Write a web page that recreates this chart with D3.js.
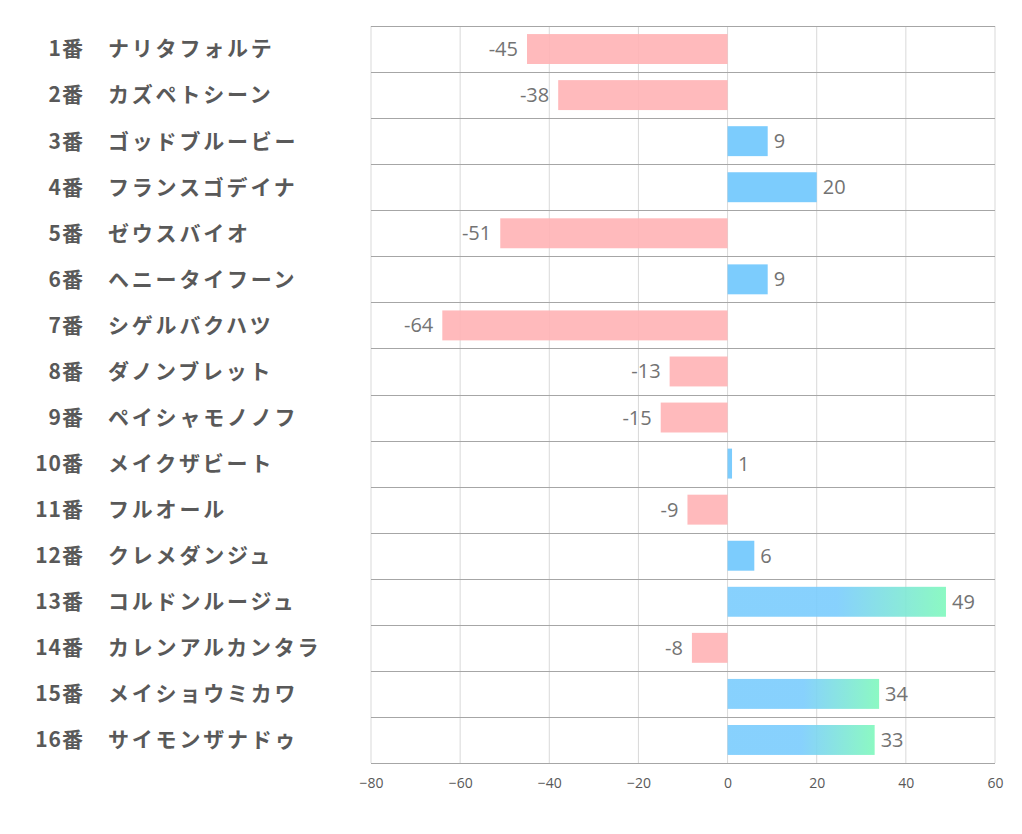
<!DOCTYPE html>
<html><head><meta charset="utf-8">
<script src="https://cdn.jsdelivr.net/npm/d3@7"></script>
<style>body{margin:0;background:#fff;} svg{display:block;}</style>
</head><body>
<svg id="c" width="1022" height="834"></svg>
<script>
const numbers = ["1番","2番","3番","4番","5番","6番","7番","8番","9番","10番","11番","12番","13番","14番","15番","16番"];
const names = ["ナリタフォルテ","カズペトシーン","ゴッドブルービー","フランスゴデイナ","ゼウスバイオ","ヘニータイフーン","シゲルバクハツ","ダノンブレット","ペイシャモノノフ","メイクザビート","フルオール","クレメダンジュ","コルドンルージュ","カレンアルカンタラ","メイショウミカワ","サイモンザナドゥ"];
const values = [-45,-38,9,20,-51,9,-64,-13,-15,1,-9,6,49,-8,34,33];
const ticks = [-80,-60,-40,-20,0,20,40,60];

const svg = d3.select("#c");
const L = 371, R = 995, T = 26, B = 763;
const x = d3.scaleLinear().domain([-80,60]).range([L,R]);
const y = d3.scaleBand().domain(d3.range(values.length)).range([T,B]).paddingInner(0.35).paddingOuter(0.175);
const rowH = (B-T)/values.length;

const defs = svg.append("defs");
const g = defs.append("linearGradient").attr("id","grad").attr("x1","0").attr("x2","1").attr("y1","0").attr("y2","0");
g.append("stop").attr("offset","0.5").attr("stop-color","#7accfd");
g.append("stop").attr("offset","1").attr("stop-color","#7ff8bc");

// vertical grid
svg.append("g").selectAll("line").data(ticks).join("line")
  .attr("x1",d=>x(d)).attr("x2",d=>x(d)).attr("y1",T).attr("y2",B)
  .attr("stroke","#d9d9d9").attr("stroke-width",1);
// horizontal row lines
svg.append("g").selectAll("line").data(d3.range(values.length)).join("line")
  .attr("x1",L).attr("x2",R).attr("y1",i=>Math.round(T+i*rowH)+0.5).attr("y2",i=>Math.round(T+i*rowH)+0.5)
  .attr("stroke","#a6a6a6").attr("stroke-width",1);
// bottom axis line
svg.append("line").attr("x1",L).attr("x2",R).attr("y1",B+0.5).attr("y2",B+0.5).attr("stroke","#a6a6a6");

// bars
svg.append("g").selectAll("rect").data(values).join("rect")
  .attr("x",d=>x(Math.min(0,d))).attr("width",d=>Math.abs(x(d)-x(0)))
  .attr("y",(d,i)=>y(i)).attr("height",y.bandwidth())
  .attr("fill",d=>d<0?"#ffb3b5":(d>=30?"url(#grad)":"#6ec6fd"))
  .attr("opacity",0.9);

// value labels
svg.append("g").selectAll("text").data(values).join("text")
  .attr("x",d=>d<0?x(d)-9:x(d)+6)
  .attr("y",(d,i)=>y(i)+y.bandwidth()/2)
  .attr("dy","0.35em")
  .attr("text-anchor",d=>d<0?"end":"start")
  .attr("font-family","'Open Sans', 'Noto Sans', sans-serif")
  .attr("font-size",20).attr("fill","#737373")
  .text(d=>d);

// category labels
const lab = svg.append("g").attr("font-family","'Noto Sans CJK JP', sans-serif").attr("font-weight","bold").attr("font-size",21).attr("fill","#595959");
lab.selectAll("text.n").data(numbers).join("text").attr("class","n")
  .attr("x",84).attr("y",(d,i)=>y(i)+y.bandwidth()/2).attr("dy","0.35em").attr("text-anchor","end")
  .attr("letter-spacing",1).text(d=>d);
lab.selectAll("text.m").data(names).join("text").attr("class","m")
  .attr("x",108).attr("y",(d,i)=>y(i)+y.bandwidth()/2).attr("dy","0.35em")
  .attr("letter-spacing",2.8).text(d=>d);

// x axis tick labels
const ax = svg.append("g").attr("transform",`translate(0,${B})`)
  .call(d3.axisBottom(x).tickValues(ticks).tickSize(0).tickPadding(15));
ax.select(".domain").remove();
ax.selectAll("text").attr("font-family","'Open Sans', sans-serif").attr("font-size",14).attr("fill","#595959");
</script>
</body></html>
